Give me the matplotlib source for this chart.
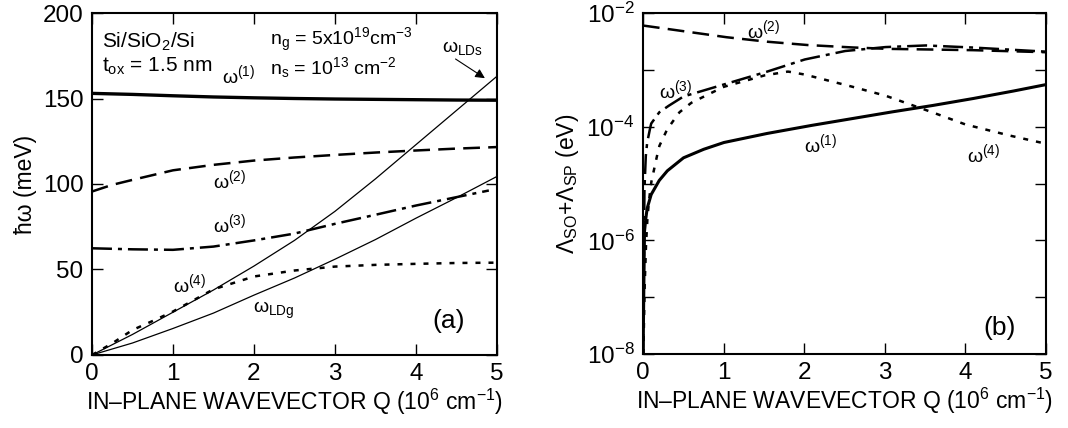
import numpy as np
import matplotlib
matplotlib.use("Agg")
import matplotlib.pyplot as plt

plt.rcParams['font.family'] = ['Liberation Sans', 'DejaVu Sans']
plt.rcParams['mathtext.fontset'] = 'custom'
plt.rcParams['mathtext.rm'] = 'Liberation Sans'
plt.rcParams['mathtext.it'] = 'Liberation Sans'
plt.rcParams['mathtext.default'] = 'regular'

# (a) dispersion, hbar*omega in meV vs Q (10^6 cm^-1)
q_w1 = [0, 0.5, 1, 1.5, 2, 2.5, 3, 3.5, 4, 4.5, 5]
w1 = [153, 152.4, 151.6, 150.9, 150.4, 150.0, 149.7, 149.5, 149.3, 149.1, 149.0]
q_w2 = [0, 0.25, 0.5, 1, 1.5, 2, 2.5, 3, 3.5, 4, 4.5, 5]
w2 = [95.6, 99.5, 102.4, 108, 111.2, 113.7, 115.5, 117, 118.4, 119.6, 120.7, 121.6]
q_w3 = [0, 0.5, 1, 1.5, 2, 2.5, 3, 3.5, 4, 4.5, 4.9]
w3 = [62.4, 61.8, 61.5, 63.4, 67, 71, 76.7, 82, 87.4, 92.3, 96.2]
q_w4 = [0, 0.25, 0.5, 0.75, 1, 1.5, 2, 2.5, 3, 3.5, 4, 4.5, 5]
w4 = [0, 6.8, 14.6, 19.9, 25.4, 38.4, 45.9, 49.4, 51.7, 52.7, 53.3, 53.8, 54.0]
q_lds = [0, 0.5, 1, 1.5, 2, 2.5, 3, 3.5, 4, 4.5, 5]
w_lds = [0, 12, 25, 38, 52, 67, 84, 103, 123, 143, 163]
q_ldg = [0, 0.5, 1, 1.5, 2, 2.5, 3, 3.5, 4, 4.5, 5]
w_ldg = [0, 7, 15.5, 24.5, 35, 45, 56, 67.5, 80, 92, 104.4]

# (b) log10 of Lambda_SO + Lambda_SP (eV) vs Q
q_l1 = [0.002, 0.005, 0.01, 0.02, 0.05, 0.1, 0.2, 0.3, 0.5, 0.75, 1, 1.5, 2, 2.5, 3, 3.5, 4, 4.5, 5]
l1 = [-8, -7, -6.2, -5.8, -5.45, -5.2, -4.95, -4.78, -4.55, -4.4, -4.28, -4.13, -4.0, -3.88, -3.76, -3.65, -3.53, -3.4, -3.26]
q_l2 = [0, 0.5, 1, 1.5, 2, 2.5, 3, 3.5, 4, 4.5, 5]
l2 = [-2.22, -2.32, -2.42, -2.5, -2.56, -2.6, -2.63, -2.64, -2.65, -2.67, -2.69]
q_l3 = [0.002, 0.01, 0.03, 0.05, 0.1, 0.2, 0.3, 0.5, 1, 1.5, 2, 2.5, 3, 3.5, 4, 4.5, 5]
l3 = [-8, -5.5, -4.6, -4.3, -3.95, -3.75, -3.65, -3.47, -3.26, -3.05, -2.82, -2.67, -2.6, -2.57, -2.6, -2.64, -2.68]
q_l4 = [0.005, 0.01, 0.03, 0.06, 0.1, 0.2, 0.3, 0.45, 0.6, 1, 1.5, 1.8, 2, 2.5, 3, 3.5, 4, 4.5, 5]
l4 = [-8, -7.5, -6.3, -5.5, -5.0, -4.35, -4.05, -3.75, -3.58, -3.3, -3.1, -3.03, -3.08, -3.26, -3.45, -3.7, -3.96, -4.14, -4.3]

xticks = [0, 1, 2, 3, 4, 5]
yticks_a = [0, 50, 100, 150, 200]
xlabel = "IN\u2013PLANE WAVEVECTOR Q (10$^{6}$ cm$^{\u22121}$)"

fig = plt.figure(figsize=(10.68, 4.28), dpi=100)
ax1 = fig.add_axes([0.0861, 0.1706, 0.3792, 0.799])
ax2 = fig.add_axes([0.602, 0.1729, 0.3773, 0.7967])


def smooth(x, y, n=300):
    xs = np.linspace(min(x), max(x), n)
    return xs, np.interp(xs, x, y)


def style_axes(ax):
    ax.tick_params(direction='in', length=8, width=1, top=True, right=True,
                   labelsize=17.5, pad=6)
    for s in ax.spines.values():
        s.set_linewidth(1.5)
    ax.set_xlim(0, 5)
    ax.set_xticks(xticks)
    ax.set_xlabel(xlabel, fontsize=16.5, labelpad=1)


# ---- panel (a)
ax1.plot(q_w1, w1, color='black', lw=2.4)
l, = ax1.plot(q_w2, w2, color='black', lw=1.8)
l.set_dashes((6.7, 3.3))
l, = ax1.plot(q_w3, w3, color='black', lw=1.8)
l.set_dashes((8, 2.4, 1.6, 2.4))
l, = ax1.plot(q_w4, w4, color='black', lw=1.8)
l.set_dashes((2, 3.2))
ax1.plot(q_lds, w_lds, color='black', lw=0.9)
ax1.plot(q_ldg, w_ldg, color='black', lw=0.9)
ax1.set_ylim(0, 200)
ax1.set_yticks(yticks_a)
style_axes(ax1)
ax1.set_ylabel("ħω (meV)", fontsize=16.5, labelpad=4)

ax1.text(0.12, 180, "Si/SiO$_2$/Si", fontsize=15)
ax1.text(0.12, 165.5, "t$_{ox}$ = 1.5 nm", fontsize=15)
ax1.text(2.2, 181, "n$_g$ = 5x10$^{19}$cm$^{\u22123}$", fontsize=14)
ax1.text(2.2, 164.5, "n$_s$ = 10$^{13}$ cm$^{\u22122}$", fontsize=14)
ax1.text(1.6, 159, "ω$^{(1)}$", fontsize=14)
ax1.text(1.5, 97.7, "ω$^{(2)}$", fontsize=14)
ax1.text(1.5, 72, "ω$^{(3)}$", fontsize=14)
ax1.text(1.0, 37, "ω$^{(4)}$", fontsize=14)
ax1.text(1.99, 24.5, "ω$_{LDg}$", fontsize=14)
ax1.text(4.32, 177, "ω$_{LDs}$", fontsize=14)
ax1.annotate("", xy=(4.88, 161), xytext=(4.46, 174),
             arrowprops=dict(arrowstyle='-|>', color='black', lw=0.8,
                             mutation_scale=14))
ax1.text(4.2, 16, "(a)", fontsize=19)

# ---- panel (b)
x, y = smooth(q_l1, l1)
ax2.plot(x, 10 ** y, color='black', lw=2.2)
x, y = smooth(q_l2, l2)
l, = ax2.plot(x, 10 ** y, color='black', lw=1.8)
l.set_dashes((6.7, 3.3))
x, y = smooth(q_l3, l3)
l, = ax2.plot(x, 10 ** y, color='black', lw=1.8)
l.set_dashes((8, 2.4, 1.6, 2.4))
x, y = smooth(q_l4, l4)
l, = ax2.plot(x, 10 ** y, color='black', lw=1.8)
l.set_dashes((2, 3.2))
ax2.set_yscale('log')
ax2.set_ylim(1e-8, 1e-2)
ax2.set_yticks([10.0 ** e for e in range(-8, -1)])
ax2.set_yticklabels(["10$^{\u2212%d}$" % -e if e % 2 == 0 else "" for e in range(-8, -1)])
ax2.minorticks_off()
style_axes(ax2)
ax2.set_ylabel("Λ$_{SO}$+Λ$_{SP}$ (eV)", fontsize=16.5, labelpad=4)

ax2.text(1.29, 10 ** -2.44, "ω$^{(2)}$", fontsize=14)
ax2.text(0.2, 10 ** -3.5, "ω$^{(3)}$", fontsize=14)
ax2.text(2.0, 10 ** -4.45, "ω$^{(1)}$", fontsize=14)
ax2.text(4.02, 10 ** -4.62, "ω$^{(4)}$", fontsize=14)
ax2.text(4.23, 10 ** -7.67, "(b)", fontsize=19)

fig.savefig("out.png", dpi=100)
